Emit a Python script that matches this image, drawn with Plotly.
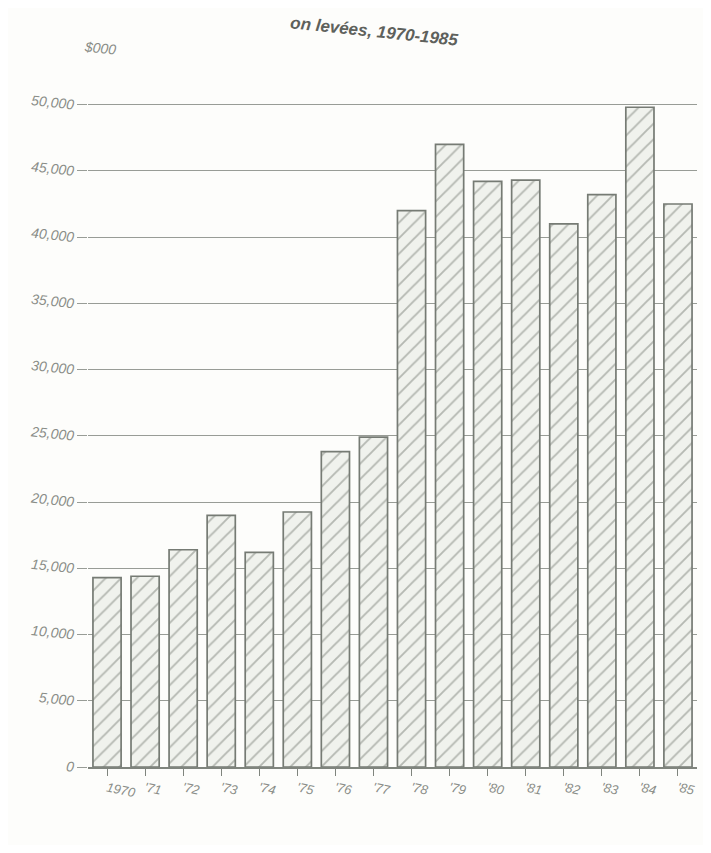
import plotly.graph_objects as go

years = ["1970", "'71", "'72", "'73", "'74", "'75", "'76", "'77",
         "'78", "'79", "'80", "'81", "'82", "'83", "'84", "'85"]
values = [14300, 14400, 16400, 19000, 16200, 19250, 23800, 24900,
          42000, 47000, 44200, 44300, 41000, 43200, 49800, 42500]
y_ticks = [0, 5000, 10000, 15000, 20000, 25000, 30000, 35000, 40000, 45000, 50000]
y_tick_labels = ["0", "5,000", "10,000", "15,000", "20,000", "25,000",
                 "30,000", "35,000", "40,000", "45,000", "50,000"]
title_text = "on levées, 1970-1985"
unit_text = "$000"

line_col = "#7f847d"
text_col = "#8a8d88"

fig = go.Figure()
fig.add_trace(go.Bar(
    x=years, y=values,
    marker=dict(
        color="#f0f2ed",
        line=dict(color="#767b74", width=1.7),
        pattern=dict(shape="/", fgcolor="#7a7f78", bgcolor="#f0f2ed",
                     size=11, solidity=0.17),
    ),
    hoverinfo="x+y",
))

fig.update_layout(
    width=695, height=837,
    paper_bgcolor="#fdfdfb", plot_bgcolor="#fdfdfb",
    margin=dict(l=80, r=6, t=90, b=78),
    bargap=0.26,
    showlegend=False,
    font=dict(family="Liberation Sans, Arial, sans-serif", color=text_col),
)
fig.update_xaxes(
    type="category",
    showgrid=False, zeroline=False,
    showline=True, linecolor=line_col, linewidth=1.7,
    ticks="outside", ticklen=7, tickcolor=line_col,
    tickangle=12,
    tickfont=dict(size=13, color=text_col, style="italic"),
)
fig.update_yaxes(
    range=[0, 50500],
    tickvals=y_ticks, ticktext=y_tick_labels,
    showgrid=True, gridcolor="#989c96", gridwidth=1,
    zeroline=False, showline=False,
    ticks="outside", ticklen=10, tickcolor="#989c96",
    tickangle=6,
    tickfont=dict(size=14, color=text_col, style="italic"),
)
fig.add_annotation(
    text=unit_text, xref="paper", yref="paper", x=0.02, y=1.075,
    xanchor="center", yanchor="middle", showarrow=False, textangle=6,
    font=dict(size=14, color=text_col, style="italic"),
)
fig.add_annotation(
    text="<b>" + title_text + "</b>", xref="paper", yref="paper",
    x=0.47, y=1.10, xanchor="center", yanchor="middle", showarrow=False,
    textangle=6,
    font=dict(size=17, color="#5e615c", style="italic"),
)

fig.write_html("out.html")
